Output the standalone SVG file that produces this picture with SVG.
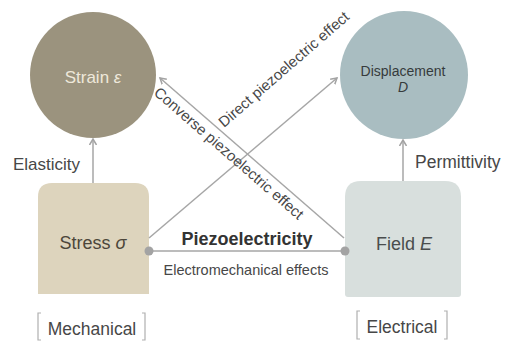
<svg xmlns="http://www.w3.org/2000/svg" width="507" height="345" viewBox="0 0 507 345">
<defs>
<marker id="arr" markerUnits="userSpaceOnUse" markerWidth="10" markerHeight="10" refX="6" refY="4" orient="auto">
<path d="M0,0.5 L6,4 L0,7.5" fill="none" stroke="#a3a3a3" stroke-width="1.5"/>
</marker>
<style>
text{font-family:"Liberation Sans",Arial,sans-serif;}
.conn{stroke:#a6a6a6;stroke-width:1.5;fill:none;}
.lbl{fill:#474747;}
.br{stroke:#b0b0b0;stroke-width:1.2;fill:none;}
</style>
</defs>
<rect width="507" height="345" fill="#ffffff"/>
<g id="strain">
<circle cx="93" cy="75" r="63" fill="#9b937e"/>
<text x="93" y="83" font-size="17" text-anchor="middle" fill="#eee8da">Strain <tspan font-style="italic">ε</tspan></text>
</g>
<g id="displacement">
<circle cx="404" cy="75" r="64" fill="#a9bdc1"/>
<text x="403" y="76" font-size="14" text-anchor="middle" fill="#363b3c">Displacement</text>
<text x="403" y="92" font-size="14" text-anchor="middle" font-style="italic" fill="#363b3c">D</text>
</g>
<g id="stress">
<path d="M38,294 V197 Q38,183 52,183 H135 Q149,183 149,197 V294 Z" fill="#ddd4bd"/>
<text x="93" y="249" font-size="18" text-anchor="middle" fill="#4c463a">Stress <tspan font-style="italic">σ</tspan></text>
</g>
<g id="field">
<path d="M345,294 V197 Q345,181 361,181 H445 Q461,181 461,197 V294 Q461,297 458,297 H348 Q345,297 345,294 Z" fill="#d8dfdd"/>
<text x="404" y="250" font-size="18" text-anchor="middle" fill="#4a4d4d">Field <tspan font-style="italic">E</tspan></text>
</g>
<g id="connectors">
<line class="conn" x1="93" y1="183" x2="93" y2="139" marker-end="url(#arr)"/>
<line class="conn" x1="403" y1="181" x2="403" y2="140" marker-end="url(#arr)"/>
<line class="conn" x1="149" y1="238" x2="337" y2="78" marker-end="url(#arr)"/>
<line class="conn" x1="344" y1="238" x2="160" y2="78" marker-end="url(#arr)"/>
<line class="conn" x1="149" y1="251" x2="345" y2="251"/>
<circle cx="149" cy="251" r="4.5" fill="#a3a3a3"/>
<circle cx="345" cy="251" r="4.5" fill="#a3a3a3"/>
</g>
<g id="labels">
<text class="lbl" x="13" y="170" font-size="17">Elasticity</text>
<text class="lbl" x="415" y="168" font-size="17.5">Permittivity</text>
<text x="247" y="245" font-size="18" font-weight="bold" text-anchor="middle" fill="#333333">Piezoelectricity</text>
<text class="lbl" x="246" y="275" font-size="14.5" text-anchor="middle">Electromechanical effects</text>
<text class="lbl" font-size="15" transform="translate(224,128) rotate(-41)">Direct piezoelectric effect</text>
<text class="lbl" font-size="15" transform="translate(153,94) rotate(41)">Converse piezoelectric effect</text>
</g>
<g id="mechanical">
<path class="br" d="M41,313 H38 V340 H41 M142,313 H145 V340 H142"/>
<text class="lbl" x="92" y="335" font-size="17.5" text-anchor="middle">Mechanical</text>
</g>
<g id="electrical">
<path class="br" d="M360,311 H357 V339 H360 M444,311 H447 V339 H444"/>
<text class="lbl" x="402" y="333" font-size="17.5" text-anchor="middle">Electrical</text>
</g>
</svg>
